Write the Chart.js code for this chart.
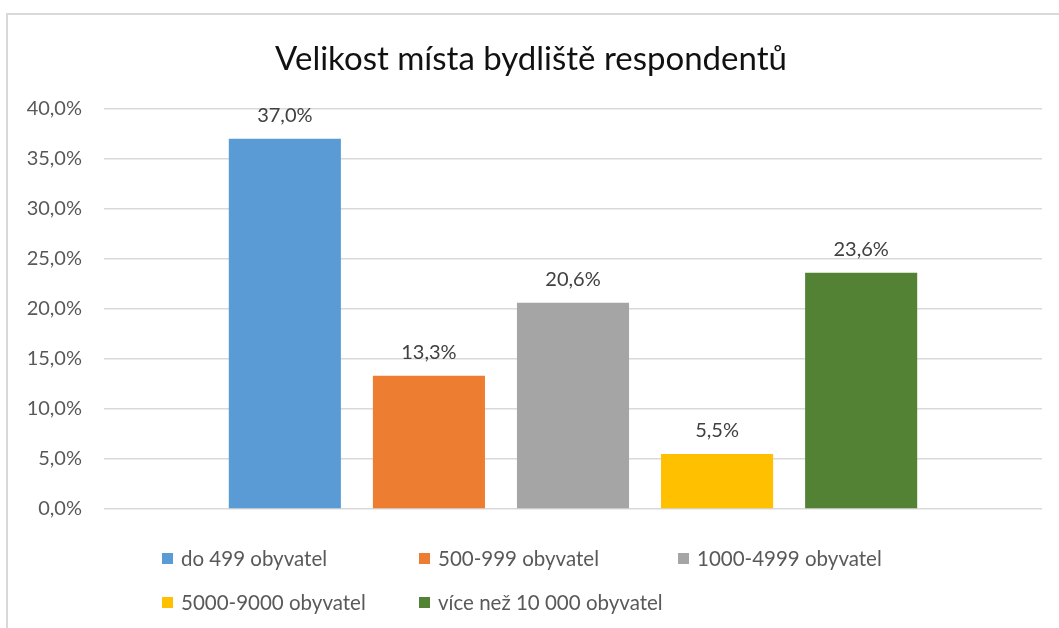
<!DOCTYPE html>
<html>
<head>
<meta charset="utf-8">
<script src="https://cdn.jsdelivr.net/npm/chart.js@4"></script>
<style>
    html, body { margin: 0; padding: 0; background: #fff; }
    body { width: 1059px; height: 628px; position: relative; overflow: hidden; font-family: Lato, "Open Sans", sans-serif; }
    .frame { position: absolute; left: 6px; top: 13px; width: 1200px; height: 800px; border: 2px solid #d9d9d9; }
    #chart { position: absolute; left: 0; top: 0; }
    .legend { position: absolute; left: 162px; top: 546px; display: grid; grid-template-columns: 257px 259px auto; row-gap: 20px; color: #595959; font-size: 20.5px; }
    .legend-item { display: flex; align-items: center; height: 24px; white-space: nowrap; }
    .legend-item .swatch { width: 11px; height: 11px; margin-right: 8px; }
</style>
</head>
<body>
<div class="frame"></div>
<canvas id="chart" width="1059" height="628"></canvas>
<div class="legend" id="legend"></div>
<script>
    // Data
    const categories = ['do 499 obyvatel', '500-999 obyvatel', '1000-4999 obyvatel', '5000-9000 obyvatel', 'více než 10 000 obyvatel'];
    const values = [37.0, 13.3, 20.6, 5.5, 23.6];
    const colors = ['#5b9bd5', '#ed7d31', '#a5a5a5', '#ffc000', '#548235'];
    const yTicks = [0, 5, 10, 15, 20, 25, 30, 35, 40];

    const fmt = v => v.toFixed(1).replace('.', ',') + '%';

    // Value labels above each bar
    const barLabels = {
        id: 'barLabels',
        afterDatasetsDraw(chart) {
            const ctx = chart.ctx;
            ctx.save();
            ctx.font = '20px Lato, "Open Sans", sans-serif';
            ctx.fillStyle = '#404040';
            ctx.textAlign = 'center';
            ctx.textBaseline = 'middle';
            chart.data.datasets.forEach((ds, i) => {
                chart.getDatasetMeta(i).data.forEach((bar, j) => {
                    ctx.fillText(fmt(ds.data[j]), bar.x, bar.y - 23);
                });
            });
            ctx.restore();
        }
    };

    document.addEventListener('DOMContentLoaded', function() {
        const ctx = document.getElementById('chart').getContext('2d');
        const chart = new Chart(ctx, {
            type: 'bar',
            data: {
                labels: [''],
                datasets: categories.map((name, i) => ({
                    label: name,
                    data: [values[i]],
                    backgroundColor: colors[i],
                    borderWidth: 0
                }))
            },
            options: {
                responsive: false,
                animation: false,
                layout: { padding: { left: 20, right: 17, top: 0, bottom: 111 } },
                datasets: {
                    bar: { categoryPercentage: 0.768, barPercentage: 0.778 }
                },
                plugins: {
                    legend: { display: false },
                    tooltip: { enabled: false },
                    title: {
                        display: true,
                        text: 'Velikost místa bydliště respondentů',
                        color: '#111',
                        font: { family: 'Lato, "Open Sans", sans-serif', size: 33, weight: 'normal' },
                        padding: { top: 40, bottom: 29 }
                    }
                },
                scales: {
                    x: {
                        ticks: { display: false },
                        grid: { display: false },
                        border: { display: false }
                    },
                    y: {
                        min: 0,
                        max: 40,
                        afterBuildTicks: scale => { scale.ticks = yTicks.map(v => ({ value: v })); },
                        afterFit: scale => { scale.width = 84; },
                        ticks: {
                            padding: 22,
                            color: '#595959',
                            font: { family: 'Lato, "Open Sans", sans-serif', size: 20 },
                            callback: v => fmt(v)
                        },
                        grid: { color: '#d9d9d9', lineWidth: 1.5, drawTicks: false },
                        border: { display: false }
                    }
                }
            },
            plugins: [barLabels]
        });

        // Legend
        const legend = document.getElementById('legend');
        categories.forEach((name, i) => {
            const item = document.createElement('div');
            item.className = 'legend-item';
            const sw = document.createElement('span');
            sw.className = 'swatch';
            sw.style.background = colors[i];
            const txt = document.createElement('span');
            txt.textContent = name;
            item.appendChild(sw);
            item.appendChild(txt);
            legend.appendChild(item);
        });
    });
</script>
</body>
</html>
